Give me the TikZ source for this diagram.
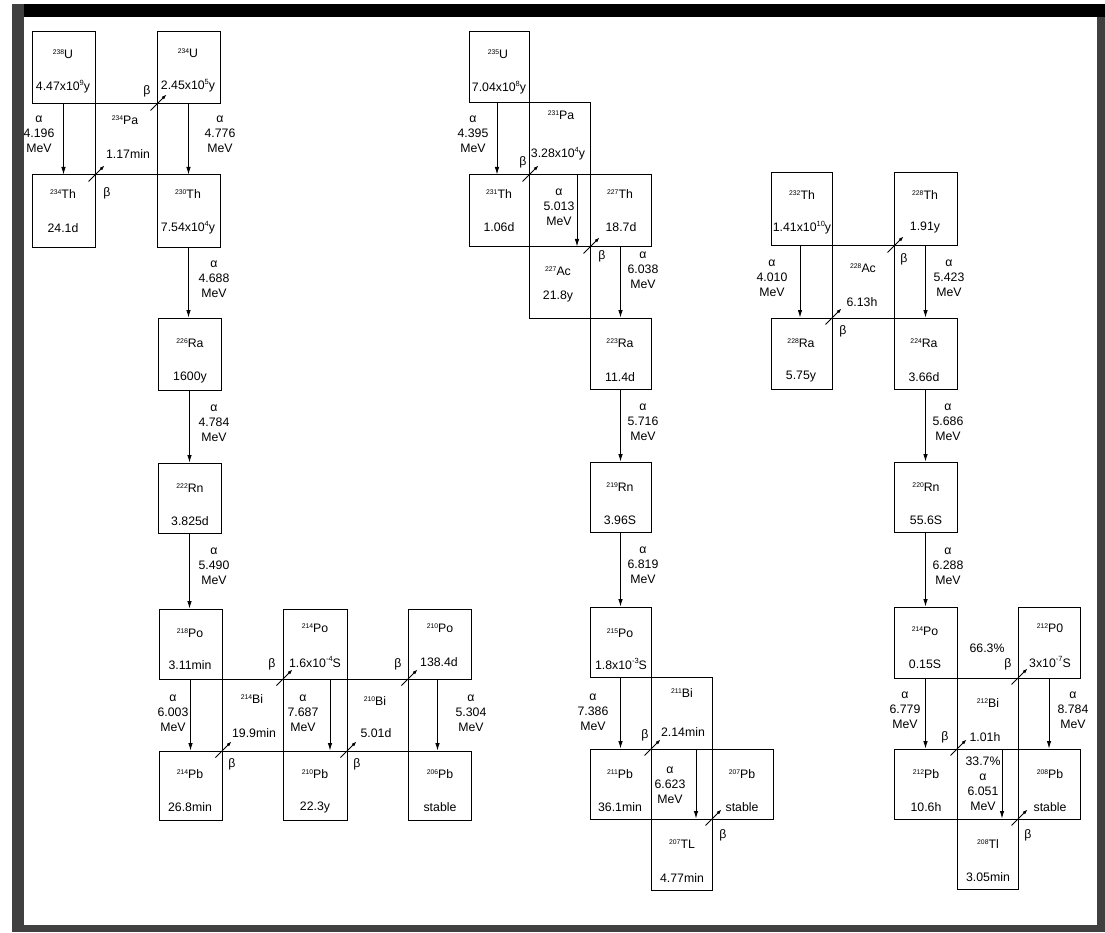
\documentclass[tikz,border=0pt]{standalone}
\usepackage{fontspec}
\setmainfont{Liberation Sans}
\usetikzlibrary{arrows.meta,calc}
\newcommand\ms[1]{\raisebox{0.36em}{\fontsize{6.8}{6.8}\selectfont #1}}
\newcommand\nuc[2]{\ms{#1}#2}
\newcommand\ex[1]{\raisebox{0.42em}{\fontsize{7.5}{7.5}\selectfont #1}}
\newcommand\bx[5]{\node[box,minimum width={#4-#2},minimum height={#5-#3}] (#1) at ({(#2+#4)/2},{(#3+#5)/2}) {};}
\newcommand\tx[4]{\node[txt] (#1) at (#2,#3) {#4};}
\newcommand\al[4]{\node[lab] (#1) at (#2,#3) {α\\#4\\MeV};}
\newcommand\bt[3]{\node[txt] (#1) at (#2,#3) {β};}
\begin{document}
\begin{tikzpicture}[x=1pt,y=-1pt,
 box/.style={draw,line width=1pt,inner sep=0pt,rectangle},
 txt/.style={inner sep=0pt,font=\fontsize{12.3}{13}\selectfont},
 lab/.style={inner sep=0pt,align=center,font=\fontsize{12.3}{15}\selectfont},
 aarrow/.style={line width=0.8pt,-{Latex[length=7.5pt,width=4.5pt]}},
 barrow/.style={line width=0.8pt,-{Latex[length=5pt,width=3.5pt]}}]
\useasboundingbox (0,0) rectangle (1105,933);
\fill[white] (0,0) rectangle (1105,933);
% frame
\fill[black] (12,4) rectangle (1105,17);
\fill[black!75] (12,4) rectangle (24,932);
\fill[black!75] (12,925) rectangle (1105,932);
\fill[black!75] (1097,17) rectangle (1105,932);

% ===== Left chain (238U) =====
\bx{u238}{32}{32}{95}{104}
\bx{u234}{157}{32}{220}{104}
\bx{pa234}{95}{104}{157}{175}
\bx{th234}{32}{175}{95}{248}
\bx{th230}{157}{175}{220}{248}
\bx{ra226}{158}{318}{221}{390}
\bx{rn222}{158}{463}{221}{533}
\bx{po218}{159}{609}{222}{679}
\bx{po214}{283}{609}{347}{679}
\bx{po210}{408}{609}{471}{679}
\bx{bi214}{222}{679}{283}{751}
\bx{bi210}{347}{679}{408}{751}
\bx{pb214}{159}{751}{222}{820}
\bx{pb210}{283}{751}{347}{820}
\bx{pb206}{408}{751}{471}{820}

\tx{tu238}{63}{54}{\nuc{238}{U}}
\tx{hu238}{63}{87}{4.47x10\ex{9}y}
\tx{tu234}{188}{53}{\nuc{234}{U}}
\tx{hu234}{188}{86}{2.45x10\ex{5}y}
\tx{tpa234}{125}{120}{\nuc{234}{Pa}}
\tx{hpa234}{128}{154}{1.17min}
\tx{tth234}{63}{194}{\nuc{234}{Th}}
\tx{hth234}{63}{228}{24.1d}
\tx{tth230}{188}{194}{\nuc{230}{Th}}
\tx{hth230}{188}{228}{7.54x10\ex{4}y}
\tx{tra226}{190}{343}{\nuc{226}{Ra}}
\tx{hra226}{190}{377}{1600y}
\tx{trn222}{190}{488}{\nuc{222}{Rn}}
\tx{hrn222}{190}{521}{3.825d}
\tx{tpo218}{190}{633}{\nuc{218}{Po}}
\tx{hpo218}{190}{665}{3.11min}
\tx{tpo214}{315}{628}{\nuc{214}{Po}}
\tx{hpo214}{315}{662}{1.6x10\ex{-4}S}
\tx{tpo210}{440}{628}{\nuc{210}{Po}}
\tx{hpo210}{439}{662}{138.4d}
\tx{tbi214}{252}{699}{\nuc{214}{Bi}}
\tx{hbi214}{254}{733}{19.9min}
\tx{tbi210}{375}{701}{\nuc{210}{Bi}}
\tx{hbi210}{376}{733}{5.01d}
\tx{tpb214}{190}{774}{\nuc{214}{Pb}}
\tx{hpb214}{190}{807}{26.8min}
\tx{tpb210}{315}{774}{\nuc{210}{Pb}}
\tx{hpb210}{315}{807}{22.3y}
\tx{tpb206}{440}{774}{\nuc{206}{Pb}}
\tx{hpb206}{440}{807}{stable}

\al{a1}{39}{134}{4.196}
\al{a2}{220}{134}{4.776}
\al{a3}{214}{279}{4.688}
\al{a4}{214}{423}{4.784}
\al{a5}{214}{566}{5.490}
\al{a6}{173}{713}{6.003}
\al{a7}{303}{713}{7.687}
\al{a8}{471}{713}{5.304}

\bt{b1}{147}{91}
\bt{b2}{107}{193}
\bt{b3}{272}{664}
\bt{b4}{398}{664}
\bt{b5}{232}{764}
\bt{b6}{357}{764}

\draw[aarrow] (u238.south) -- (th234.north);
\draw[aarrow] (u234.south) -- (th230.north);
\draw[aarrow] (th230.south) -- (th230.south |- ra226.north);
\draw[aarrow] (ra226.south) -- (ra226.south |- rn222.north);
\draw[aarrow] (rn222.south) -- (rn222.south |- po218.north);
\draw[aarrow] (po218.south) -- (po218.south |- pb214.north);
\draw[aarrow] ([xshift=15pt]po214.south) -- ([xshift=15pt]pb210.north);
\draw[aarrow] ([xshift=-2pt]po210.south) -- ([xshift=-2pt]pb206.north);

\draw[barrow] ([shift={(-7,7)}]th234.north east) -- ([shift={(9,-9)}]th234.north east);
\draw[barrow] ([shift={(-7,7)}]pa234.north east) -- ([shift={(9,-9)}]pa234.north east);
\draw[barrow] ([shift={(-7,7)}]bi214.north east) -- ([shift={(9,-9)}]bi214.north east);
\draw[barrow] ([shift={(-7,7)}]bi210.north east) -- ([shift={(9,-9)}]bi210.north east);
\draw[barrow] ([shift={(-7,7)}]pb214.north east) -- ([shift={(9,-9)}]pb214.north east);
\draw[barrow] ([shift={(-7,7)}]pb210.north east) -- ([shift={(9,-9)}]pb210.north east);

% ===== Middle chain (235U) =====
\bx{u235}{469}{32}{529}{103}
\bx{pa231}{529}{103}{590}{175}
\bx{th231}{469}{175}{529}{247}
\bx{th227}{590}{175}{651}{247}
\bx{ac227}{529}{247}{590}{318}
\bx{ra223}{590}{318}{651}{389}
\bx{rn219}{590}{462}{651}{532}
\bx{po215}{590}{607}{651}{677}
\bx{bi211}{651}{677}{712}{749}
\bx{pb211}{590}{749}{651}{819}
\bx{pb207}{712}{749}{773}{819}
\bx{tl207}{651}{819}{712}{890}

\tx{tu235}{498}{54}{\nuc{235}{U}}
\tx{hu235}{499}{88}{7.04x10\ex{8}y}
\tx{tpa231}{561}{115}{\nuc{231}{Pa}}
\tx{hpa231}{558}{154}{3.28x10\ex{4}y}
\tx{tth231}{499}{194}{\nuc{231}{Th}}
\tx{hth231}{499}{227}{1.06d}
\tx{tth227}{620}{194}{\nuc{227}{Th}}
\tx{hth227}{621}{227}{18.7d}
\tx{tac227}{558}{271}{\nuc{227}{Ac}}
\tx{hac227}{558}{296}{21.8y}
\tx{tra223}{620}{343}{\nuc{223}{Ra}}
\tx{hra223}{620}{377}{11.4d}
\tx{trn219}{620}{487}{\nuc{219}{Rn}}
\tx{hrn219}{620}{520}{3.96S}
\tx{tpo215}{620}{633}{\nuc{215}{Po}}
\tx{hpo215}{621}{664}{1.8x10\ex{-3}S}
\tx{tbi211}{682}{693}{\nuc{211}{Bi}}
\tx{hbi211}{683}{732}{2.14min}
\tx{tpb211}{620}{774}{\nuc{211}{Pb}}
\tx{hpb211}{620}{807}{36.1min}
\tx{tpb207}{742}{774}{\nuc{207}{Pb}}
\tx{hpb207}{742}{807}{stable}
\tx{ttl207}{682}{844}{\nuc{207}{TL}}
\tx{htl207}{682}{878}{4.77min}

\al{a9}{473}{134}{4.395}
\al{a10}{559}{207}{5.013}
\al{a11}{643}{270}{6.038}
\al{a12}{643}{422}{5.716}
\al{a13}{643}{565}{6.819}
\al{a14}{593}{712}{7.386}
\al{a15}{670}{785}{6.623}

\bt{b7}{523}{162}
\bt{b8}{602}{256}
\bt{b9}{645}{735}
\bt{b10}{723}{835}

\draw[aarrow] ([xshift=-2pt]u235.south) -- ([xshift=-2pt]th231.north);
\draw[aarrow] ([xshift=17.5pt]pa231.south) -- ([xshift=17.5pt]ac227.north);
\draw[aarrow] (th227.south) -- (th227.south |- ra223.north);
\draw[aarrow] (ra223.south) -- (ra223.south |- rn219.north);
\draw[aarrow] (rn219.south) -- (rn219.south |- po215.north);
\draw[aarrow] (po215.south) -- (po215.south |- pb211.north);
\draw[aarrow] ([xshift=14.5pt]bi211.south) -- ([xshift=14.5pt]tl207.north);

\draw[barrow] ([shift={(-7,7)}]th231.north east) -- ([shift={(9,-9)}]th231.north east);
\draw[barrow] ([shift={(-7,7)}]ac227.north east) -- ([shift={(9,-9)}]ac227.north east);
\draw[barrow] ([shift={(-7,7)}]pb211.north east) -- ([shift={(9,-9)}]pb211.north east);
\draw[barrow] ([shift={(-7,7)}]tl207.north east) -- ([shift={(9,-9)}]tl207.north east);

% ===== Right chain (232Th) =====
\bx{th232}{771}{173}{832}{246}
\bx{th228}{894}{173}{957}{246}
\bx{ac228}{832}{246}{894}{318}
\bx{ra228}{771}{318}{832}{389}
\bx{ra224}{894}{318}{957}{389}
\bx{rn220}{894}{462}{957}{532}
\bx{po216}{894}{607}{957}{678}
\bx{po212}{1018}{607}{1080}{678}
\bx{bi212}{957}{678}{1018}{749}
\bx{pb212}{894}{749}{957}{819}
\bx{pb208}{1018}{749}{1080}{819}
\bx{tl208}{957}{819}{1018}{889}

\tx{tth232}{802}{195}{\nuc{232}{Th}}
\tx{hth232}{802}{228}{1.41x10\ex{10}y}
\tx{tth228}{925}{195}{\nuc{228}{Th}}
\tx{hth228}{925}{227}{1.91y}
\tx{tac228}{863}{268}{\nuc{228}{Ac}}
\tx{hac228}{862}{302}{6.13h}
\tx{tra228}{801}{343}{\nuc{228}{Ra}}
\tx{hra228}{801}{377}{5.75y}
\tx{tra224}{924}{343}{\nuc{224}{Ra}}
\tx{hra224}{924}{377}{3.66d}
\tx{trn220}{926}{487}{\nuc{220}{Rn}}
\tx{hrn220}{926}{520}{55.6S}
\tx{tpo216}{925}{631}{\nuc{214}{Po}}
\tx{hpo216}{925}{664}{0.15S}
\tx{tpo212}{1050}{628}{\nuc{212}{P0}}
\tx{hpo212}{1050}{662}{3x10\ex{-7}S}
\tx{pc1}{987}{648}{66.3\%}
\tx{tbi212}{988}{703}{\nuc{212}{Bi}}
\tx{hbi212}{985}{737}{1.01h}
\tx{tpb212}{926}{774}{\nuc{212}{Pb}}
\tx{hpb212}{926}{807}{10.6h}
\tx{tpb208}{1050}{774}{\nuc{208}{Pb}}
\tx{hpb208}{1050}{807}{stable}
\tx{ttl208}{988}{844}{\nuc{208}{Tl}}
\tx{htl208}{988}{877}{3.05min}

\al{a16}{772}{278}{4.010}
\al{a17}{949}{278}{5.423}
\al{a18}{948}{422}{5.686}
\al{a19}{948}{566}{6.288}
\al{a20}{905}{710}{6.779}
\al{a21}{1073}{710}{8.784}
\node[lab] (a22) at (983,784) {33.7\%\\α\\6.051\\MeV};

\bt{b11}{904}{259}
\bt{b12}{843}{331}
\bt{b13}{1008}{664}
\bt{b14}{945}{737}
\bt{b15}{1028}{835}

\draw[aarrow] ([xshift=-1.5pt]th232.south) -- ([xshift=-1.5pt]ra228.north);
\draw[aarrow] (th228.south) -- (ra224.north);
\draw[aarrow] (ra224.south) -- (ra224.south |- rn220.north);
\draw[aarrow] (rn220.south) -- (rn220.south |- po216.north);
\draw[aarrow] (po216.south) -- (po216.south |- pb212.north);
\draw[aarrow] (po212.south) -- (pb208.north);
\draw[aarrow] ([xshift=14.5pt]bi212.south) -- ([xshift=14.5pt]tl208.north);

\draw[barrow] ([shift={(-7,7)}]ac228.north east) -- ([shift={(9,-9)}]ac228.north east);
\draw[barrow] ([shift={(-7,7)}]ra228.north east) -- ([shift={(9,-9)}]ra228.north east);
\draw[barrow] ([shift={(-7,7)}]bi212.north east) -- ([shift={(9,-9)}]bi212.north east);
\draw[barrow] ([shift={(-7,7)}]pb212.north east) -- ([shift={(9,-9)}]pb212.north east);
\draw[barrow] ([shift={(-7,7)}]tl208.north east) -- ([shift={(9,-9)}]tl208.north east);
\end{tikzpicture}
\end{document}
